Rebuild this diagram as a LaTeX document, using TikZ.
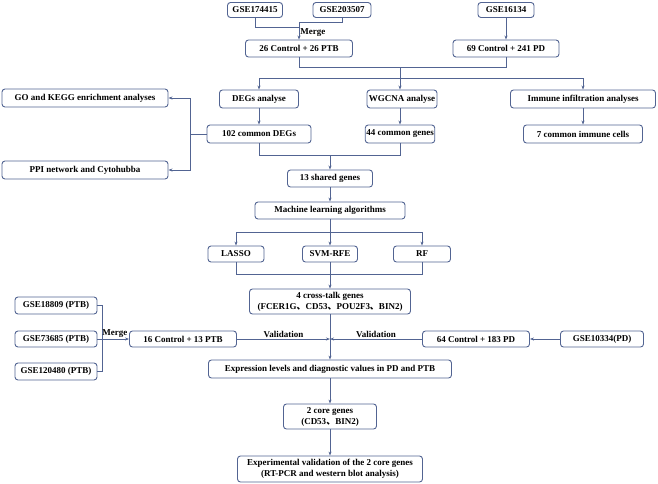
\documentclass[tikz,border=0pt]{standalone}
\usepackage{fontspec}
\setmainfont{Liberation Serif}
\newfontfamily\cjk{Noto Sans CJK SC}
\usepackage{xcolor}
\usepackage{tikz}
\usetikzlibrary{arrows.meta, positioning, calc}
\definecolor{flowblue}{RGB}{82,100,146}
\newcommand{\dun}{{\cjk 、}}

\begin{document}
\begin{tikzpicture}[
    x=1pt, y=-1pt,
    box/.style={rectangle, rounded corners=3pt, draw=flowblue, line width=0.9pt, fill=white, font=\bfseries\fontsize{9}{11}\selectfont, align=center, inner sep=1pt, minimum height=17pt},
    lbl/.style={font=\bfseries\fontsize{9}{11}\selectfont, inner sep=1pt},
    arrow/.style={-{Stealth[length=4pt, width=3pt]}, draw=flowblue, line width=0.6pt},
    line/.style={draw=flowblue, line width=0.6pt}
]
\useasboundingbox (0,0) rectangle (658,483);

% datasets at the top
\node[box, minimum width=55pt, minimum height=15pt] (gse174415) at (255,10) {GSE174415};
\node[box, minimum width=58pt, minimum height=15pt] (gse203507) at (342,10) {GSE203507};
\node[box, minimum width=56pt, minimum height=15pt] (gse16134) at (506,10) {GSE16134};
\node[box, minimum width=107pt] (ctrlptb) at (299,48.5) {26 Control + 26 PTB};
\node[box, minimum width=106pt] (ctrlpd) at (506,48.5) {69 Control + 241 PD};

% analyses
\node[box, minimum width=79pt, minimum height=18pt] (degs) at (259,99) {DEGs analyse};
\node[box, minimum width=70pt, minimum height=18pt] (wgcna) at (402,99) {WGCNA analyse};
\node[box, minimum width=145pt, minimum height=18pt] (immune) at (583,99) {Immune infiltration analyses};
\node[box, minimum width=104pt, minimum height=18pt] (deg102) at (259,134) {102 common DEGs};
\node[box, minimum width=65pt, minimum height=18pt] (gene44) at (400,134) {44 common genes};
\node[box, minimum width=119pt, minimum height=18pt] (cells7) at (583,134) {7 common immune cells};
\node[box, minimum width=166pt, minimum height=18pt] (goenr) at (85,98) {GO and KEGG enrichment analyses};
\node[box, minimum width=166pt, minimum height=18pt] (ppi) at (85,170) {PPI network and Cytohubba};

% machine learning
\node[box, minimum width=85pt] (shared) at (330,178.5) {13 shared genes};
\node[box, minimum width=150pt] (ml) at (330,210.5) {Machine learning algorithms};
\node[box, minimum width=56pt, minimum height=16pt] (lasso) at (236,254) {LASSO};
\node[box, minimum width=55pt, minimum height=16pt] (svm) at (330,254) {SVM-RFE};
\node[box, minimum width=57pt, minimum height=16pt] (rf) at (422,254) {RF};
\node[box, minimum width=161pt, minimum height=25pt] (crosstalk) at (330,301.5) {4 cross-talk genes\\(FCER1G\dun CD53\dun POU2F3\dun BIN2)};

% validation sets
\node[box, minimum width=82pt] (gse18809) at (56,305.5) {GSE18809 (PTB)};
\node[box, minimum width=82pt, minimum height=16pt] (gse73685) at (56,339) {GSE73685 (PTB)};
\node[box, minimum width=82pt] (gse120480) at (56,371.5) {GSE120480 (PTB)};
\node[box, minimum width=107pt, minimum height=16pt] (ctrl16) at (183,339) {16 Control + 13 PTB};
\node[box, minimum width=107pt, minimum height=16pt] (ctrl64) at (476,339) {64 Control + 183 PD};
\node[box, minimum width=83pt, minimum height=16pt] (gse10334) at (602,339) {GSE10334(PD)};

% results
\node[box, minimum width=243pt, minimum height=18pt] (expr) at (330,369) {Expression levels and diagnostic values in PD and PTB};
\node[box, minimum width=93pt, minimum height=25pt] (core2) at (330,416.5) {2 core genes\\(CD53\dun BIN2)};
\node[box, minimum width=185pt, minimum height=26pt] (exper) at (330,469) {Experimental validation of the 2 core genes\\(RT-PCR and western blot analysis)};

% junctions
\coordinate (m1) at (299,27);
\coordinate (m2) at (299,22);
\coordinate (j1) at (400,67);
\coordinate (j2) at (400,78);
\coordinate (j3) at (190,134);
\coordinate (j4) at (330,155);
\coordinate (j5) at (330,232);
\coordinate (j6) at (330,274);
\coordinate (j7) at (330,339);
\coordinate (j8) at (102,339);

\draw[line] (gse174415.south) |- (m1);
\draw[line] (gse203507.south) |- (m2);
\draw[arrow] (m2) -- node[lbl, right, pos=0.6] {Merge} (ctrlptb.north);
\draw[arrow] (gse16134) -- (ctrlpd);

\draw[line] (ctrlptb.south) |- (j1);
\draw[line] (ctrlpd.south) |- (j1);
\draw[line] (j1) -- (j2);
\draw[arrow] (j2) -| (degs.north);
\draw[arrow] (j2) -- (j2 |- wgcna.north);
\draw[arrow] (j2) -| (immune.north);

\draw[arrow] (degs) -- (deg102);
\draw[arrow] (wgcna.south -| gene44.north) -- (gene44.north);
\draw[arrow] (immune) -- (cells7);

\draw[line] (deg102.west) -- (j3);
\draw[arrow] (j3) |- (goenr.east);
\draw[arrow] (j3) |- (ppi.east);

\draw[line] (deg102.south) |- (j4);
\draw[line] (gene44.south) |- (j4);
\draw[arrow] (j4) -- (shared.north);
\draw[arrow] (shared) -- (ml);

\draw[line] (ml.south) -- (j5);
\draw[arrow] (j5) -| (lasso.north);
\draw[arrow] (j5) -- (svm.north);
\draw[arrow] (j5) -| (rf.north);
\draw[line] (lasso.south) |- (j6);
\draw[line] (rf.south) |- (j6);
\draw[line] (svm.south) -- (j6);
\draw[arrow] (j6) -- (crosstalk.north);

\draw[line] (gse18809.east) -| (j8);
\draw[line] (gse120480.east) -| (j8);
\draw[arrow] (gse73685.east) -- node[lbl, above, pos=0.55] {Merge} (ctrl16.west);
\draw[arrow] (gse10334) -- (ctrl64);

\draw[line] (crosstalk.south) -- (j7);
\draw[arrow] (ctrl16.east) -- node[lbl, above] {Validation} (j7);
\draw[arrow] (ctrl64.west) -- node[lbl, above] {Validation} (j7);
\draw[arrow] (j7) -- (expr.north);
\draw[arrow] (expr) -- (core2);
\draw[arrow] (core2) -- (exper);
\end{tikzpicture}
\end{document}
